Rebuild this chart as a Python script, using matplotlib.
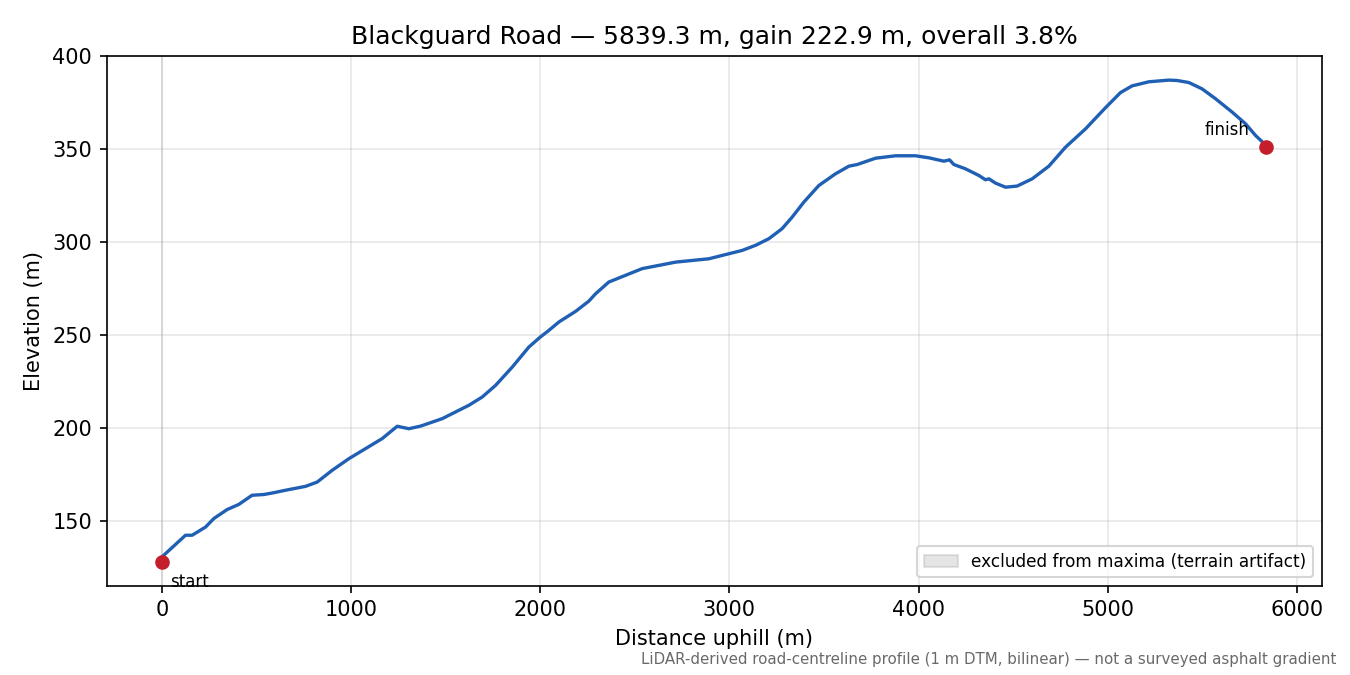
#!/usr/bin/env python3
# Elevation profile of Blackguard Road

import numpy as np
import matplotlib
matplotlib.use("Agg")
import matplotlib.pyplot as plt

# -------------------- DATA --------------------
ROAD_NAME = "Blackguard Road"
TOTAL_LEN = 5839.3
START_ELEV = 128.2
FINISH_ELEV = 351.1

distance_m = [
    0, 125, 160, 231, 275, 345, 407, 477, 539, 583, 654, 760, 821, 900, 989,
    1077, 1165, 1244, 1306, 1368, 1482, 1570, 1623, 1693, 1764, 1852, 1940,
    1997, 2046, 2099, 2187, 2257, 2293, 2363, 2451, 2539, 2716, 2892, 2962,
    3068, 3140, 3209, 3279, 3332, 3394, 3473, 3561, 3632, 3676, 3773, 3879,
    3984, 4055, 4134, 4164, 4187, 4248, 4319, 4354, 4372, 4407, 4460, 4521,
    4601, 4689, 4777, 4883, 4989, 5068, 5129, 5218, 5323, 5367, 5429, 5499,
    5570, 5658, 5729, 5782, 5839.3,
]
elevation_m = [
    130.8, 142.5, 142.5, 146.9, 151.5, 156.3, 159.1, 164.0, 164.4, 165.2,
    166.7, 168.8, 171.1, 177.4, 183.7, 189.1, 194.5, 201.1, 199.8, 201.2,
    205.2, 209.7, 212.4, 216.8, 223.1, 232.9, 243.7, 248.8, 252.7, 257.2,
    262.9, 268.4, 272.4, 278.7, 282.3, 285.9, 289.4, 291.2, 293.0, 295.7,
    298.5, 302.0, 307.4, 313.6, 321.7, 330.6, 336.9, 341.0, 341.9, 345.3,
    346.6, 346.6, 345.5, 343.7, 344.4, 341.9, 339.6, 336.0, 333.7, 334.2,
    331.9, 329.7, 330.3, 334.2, 341.0, 351.2, 361.1, 372.5, 380.6, 384.2,
    386.4, 387.3, 387.1, 386.0, 382.6, 377.3, 370.1, 363.8, 357.5, 352.0,
]
# ranges left out when searching for maxima (empty span at the start)
excluded_ranges = [(0.0, 0.0)]
# ----------------------------------------------

LINE_COLOR = "#1f5fb4"
DOT_COLOR = "#c41e2a"


def main():
    d = np.asarray(distance_m, dtype=float)
    z = np.asarray(elevation_m, dtype=float)
    gain = FINISH_ELEV - START_ELEV
    overall = gain / TOTAL_LEN * 100

    fig, ax = plt.subplots(figsize=(9, 4.5), dpi=150)
    fig.subplots_adjust(left=0.079, right=0.979, top=0.917, bottom=0.132)

    for i, (a, b) in enumerate(excluded_ranges):
        ax.axvspan(a, b, color="gray", alpha=0.2,
                   label="excluded from maxima (terrain artifact)" if i == 0 else None)

    ax.plot(d, z, color=LINE_COLOR, lw=1.6, zorder=2)
    ax.plot([0, TOTAL_LEN], [START_ELEV, FINISH_ELEV], "o", ms=6,
            color=DOT_COLOR, zorder=3)
    ax.annotate("start", (0, START_ELEV), xytext=(4, -12),
                textcoords="offset points", ha="left", fontsize=8)
    ax.annotate("finish", (TOTAL_LEN, FINISH_ELEV), xytext=(-8, 6),
                textcoords="offset points", ha="right", fontsize=8)

    ax.grid(True, alpha=0.3)
    ax.set_xlabel("Distance uphill (m)")
    ax.set_ylabel("Elevation (m)")
    ax.set_title(f"{ROAD_NAME} \u2014 {TOTAL_LEN:.1f} m, gain {gain:.1f} m, "
                 f"overall {overall:.1f}%")
    ax.legend(loc="lower right", fontsize=8.1)

    fig.text(0.99, 0.012,
             "LiDAR-derived road-centreline profile (1 m DTM, bilinear) \u2014 "
             "not a surveyed asphalt gradient",
             ha="right", va="bottom", fontsize=7.2, color="dimgray")

    fig.savefig("out.png", dpi=150)


if __name__ == "__main__":
    main()
